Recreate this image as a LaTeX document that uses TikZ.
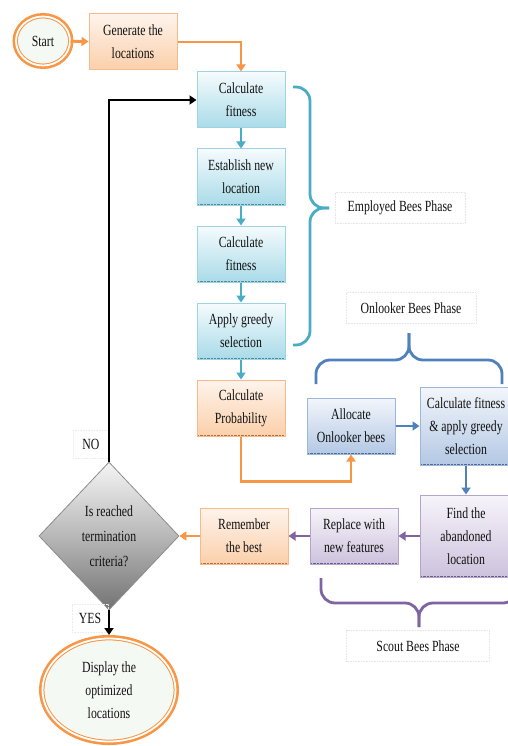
\documentclass[tikz,border=0pt]{standalone}
\usepackage{fontspec}
\setmainfont{Liberation Serif}[FakeStretch=0.76]
\usetikzlibrary{positioning, arrows.meta, shapes.geometric}

\definecolor{orangeline}{HTML}{F79646}
\definecolor{orangeedge}{HTML}{F9B98A}
\definecolor{orangetop}{HTML}{FEF4EC}
\definecolor{orangebot}{HTML}{FBCFAA}
\definecolor{orangeshade}{HTML}{B0703A}
\definecolor{cyanline}{HTML}{4BACC6}
\definecolor{cyanedge}{HTML}{9DD3E2}
\definecolor{cyantop}{HTML}{F5FBFD}
\definecolor{cyanbot}{HTML}{A9DBE8}
\definecolor{cyanshade}{HTML}{4F8A9C}
\definecolor{blueline}{HTML}{4F81BD}
\definecolor{blueedge}{HTML}{9DB7DA}
\definecolor{bluetop}{HTML}{F3F6FB}
\definecolor{bluebot}{HTML}{B3C8E4}
\definecolor{blueshade}{HTML}{4E6A96}
\definecolor{purpleline}{HTML}{8064A2}
\definecolor{purpleedge}{HTML}{B5A5CC}
\definecolor{purpletop}{HTML}{F7F4FA}
\definecolor{purplebot}{HTML}{CDC2DD}
\definecolor{purpleshade}{HTML}{6B5A8E}
\definecolor{termfill}{HTML}{F5F9F3}
\definecolor{inktext}{HTML}{111111}

\begin{document}
\begin{tikzpicture}[
    x=1pt, y=-1pt,
    font=\fontsize{15.5}{23}\selectfont,
    box/.style={rectangle, line width=1pt, minimum width=88pt, minimum height=56pt, align=center, inner sep=2pt, text=inktext,
      path picture={\draw[#1, densely dotted, line width=2.4pt] (path picture bounding box.south west) -- (path picture bounding box.south east);}},
    orangebox/.style={box=orangeshade, draw=orangeedge, top color=orangetop, bottom color=orangebot},
    empbox/.style={box=cyanshade, draw=cyanedge, top color=cyantop, bottom color=cyanbot},
    onlbox/.style={box=blueshade, draw=blueedge, top color=bluetop, bottom color=bluebot},
    scoutbox/.style={box=purpleshade, draw=purpleedge, top color=purpletop, bottom color=purplebot},
    terminal/.style={ellipse, fill=termfill, draw=orangeline, line width=1pt, double=white, double distance=1.8pt,
      preaction={draw=orangeline, line width=7pt}, align=center, inner sep=0pt, text=inktext},
    decision/.style={diamond, draw=black!45, line width=0.8pt, top color=black!4, bottom color=black!55, middle color=black!28,
      minimum width=140pt, minimum height=148pt, inner sep=0pt, align=center, text=inktext, font=\fontsize{15.5}{25}\selectfont},
    phase/.style={draw=black!10, densely dotted, line width=0.6pt, minimum width=130pt, minimum height=31pt, inner sep=0pt, text=inktext},
    tag/.style={draw=black!8, densely dotted, line width=0.6pt, minimum width=36pt, minimum height=28pt, inner sep=0pt, text=inktext},
    tip/.style={-{Triangle[width=9pt,length=7pt]}},
    orangearrow/.style={tip, draw=orangeline, line width=2.8pt},
    cyanarrow/.style={tip, draw=cyanline, line width=2.2pt},
    bluearrow/.style={tip, draw=blueline, line width=2.8pt},
    purplearrow/.style={tip, draw=purpleline, line width=2.8pt},
    blackarrow/.style={tip, draw=black, line width=2.6pt},
    brace/.style={line width=2.8pt, rounded corners=14pt}
]
\useasboundingbox (0,0) rectangle (507,746);
\fill[white] (0,0) rectangle (507,746);

\node[terminal, minimum width=54pt, minimum height=49pt] (start) at (43,41) {Start};
\node[orangebox] (gen) at (133,42) {Generate the\\locations};
\node[empbox] (calc1) at (241,100) {Calculate\\fitness};
\node[empbox, below=20pt of calc1] (est) {Establish new\\location};
\node[empbox, below=20pt of est] (calc2) {Calculate\\fitness};
\node[empbox, below=20pt of calc2] (greedy) {Apply greedy\\selection};
\node[orangebox, below=20pt of greedy] (prob) {Calculate\\Probability};
\node[onlbox] (alloc) at (351,426) {Allocate\\Onlooker bees};
\node[onlbox, minimum width=92pt, minimum height=78pt] (calcfit) at (466,426) {Calculate fitness\\\& apply greedy\\selection};
\node[scoutbox, minimum width=92pt, minimum height=82pt] (find) at (466,536) {Find the\\abandoned\\location};
\node[scoutbox] (replace) at (354,536) {Replace with\\new features};
\node[orangebox] (remember) at (244,536) {Remember\\the best};
\node[decision] (check) at (109,536) {Is reached\\termination\\criteria?};
\node[terminal, minimum width=133pt, minimum height=103pt] (final) at (109,690) {Display the\\optimized\\locations};

\node[phase] (emplabel) at (400,208) {Employed Bees Phase};
\node[phase] (onllabel) at (411,308) {Onlooker Bees Phase};
\node[phase, minimum width=143pt] (scoutlabel) at (418,646) {Scout Bees Phase};
\node[tag] (no) at (91,444) {NO};
\node[tag] (yes) at (90,618) {YES};

\draw[orangearrow] (start) -- (gen);
\draw[orangearrow] (gen.east) -| (calc1.north);
\draw[cyanarrow] (calc1) -- (est);
\draw[cyanarrow] (est) -- (calc2);
\draw[cyanarrow] (calc2) -- (greedy);
\draw[cyanarrow] (greedy) -- (prob);
\draw[orangearrow] (prob.south) -- ++(0,45) -| (alloc.south);
\draw[bluearrow] (alloc) -- (calcfit);
\draw[bluearrow] (calcfit) -- (find);
\draw[purplearrow] (find) -- (replace);
\draw[purplearrow] (replace) -- (remember);
\draw[orangearrow] (remember) -- (check);
\draw[blackarrow] (check.north) |- (calc1.west);
\draw[blackarrow, shorten >=3pt] (check) -- (final);

\draw[brace, cyanline] (293,87) -- (310,87) -- (310,208) -- (329,208);
\draw[brace, cyanline] (329,208) -- (310,208) -- (310,345) -- (293,345);
\draw[brace, blueline] (316,384) -- (316,360) -- (409,360) -- (409,333);
\draw[brace, blueline] (409,333) -- (409,360) -- (502,360) -- (502,384);
\draw[brace, purpleline] (321,578) -- (321,603) -- (419,603) -- (419,627);
\draw[brace, purpleline] (419,627) -- (419,603) -- (517,603) -- (517,578);
\end{tikzpicture}
\end{document}
